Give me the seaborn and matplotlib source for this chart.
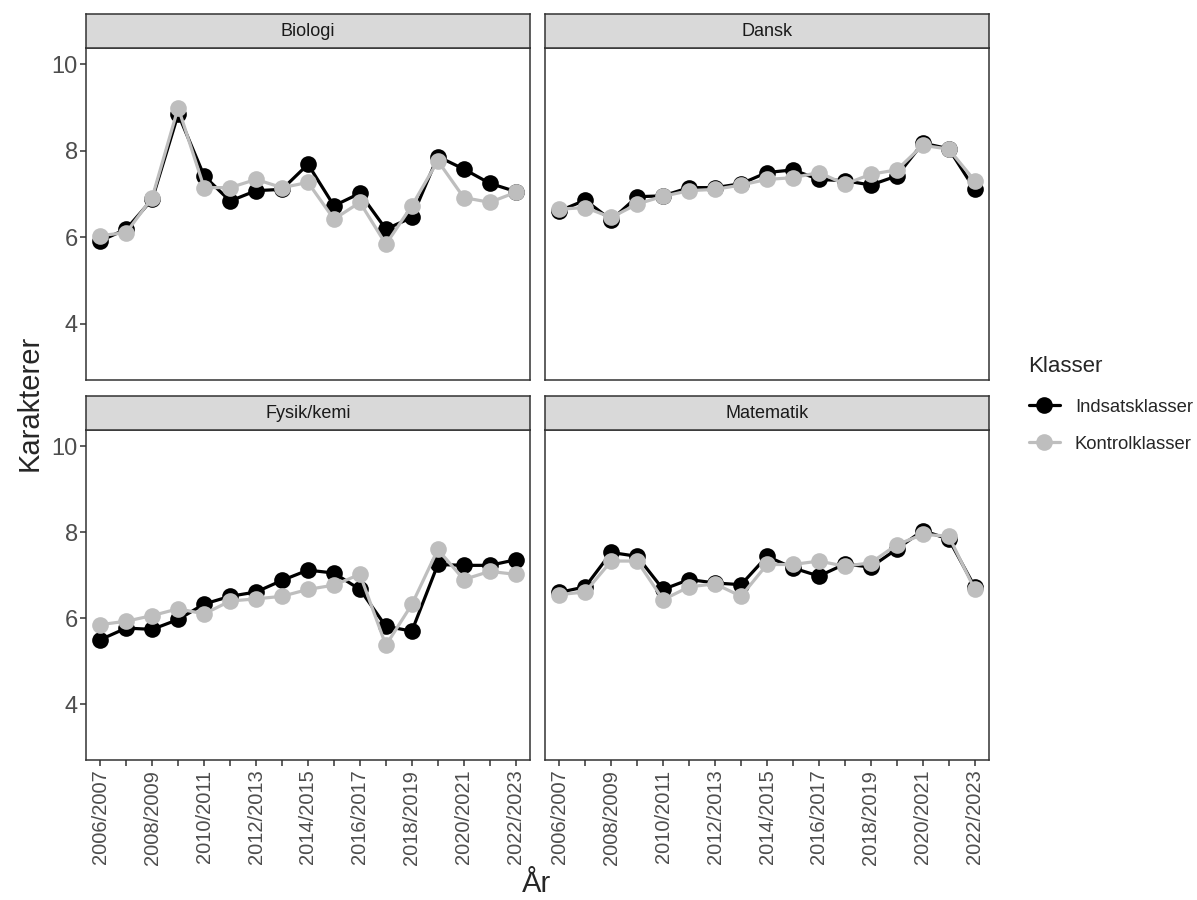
import matplotlib
matplotlib.use("Agg")
import matplotlib.pyplot as plt
from matplotlib.lines import Line2D
import seaborn as sns
import pandas as pd

sns.set_theme(style="white")
plt.rcParams["font.family"] = ["Liberation Sans", "DejaVu Sans"]

years = ["2006/2007", "2007/2008", "2008/2009", "2009/2010", "2010/2011",
         "2011/2012", "2012/2013", "2013/2014", "2014/2015", "2015/2016",
         "2016/2017", "2017/2018", "2018/2019", "2019/2020", "2020/2021",
         "2021/2022", "2022/2023"]
subjects = ["Biologi", "Dansk", "Fysik/kemi", "Matematik"]
groups = ["Indsatsklasser", "Kontrolklasser"]

biologi_indsats = [5.92, 6.19, 6.88, 8.85, 7.42, 6.84, 7.08, 7.11, 7.69, 6.73,
                   7.02, 6.19, 6.46, 7.87, 7.58, 7.25, 7.06]
biologi_kontrol = [6.04, 6.11, 6.92, 9.00, 7.15, 7.15, 7.34, 7.15, 7.27, 6.42,
                   6.81, 5.84, 6.73, 7.77, 6.92, 6.81, 7.04]
dansk_indsats = [6.61, 6.86, 6.40, 6.94, 6.96, 7.15, 7.15, 7.24, 7.50, 7.56,
                 7.34, 7.31, 7.21, 7.42, 8.18, 8.05, 7.11]
dansk_kontrol = [6.65, 6.69, 6.46, 6.77, 6.95, 7.08, 7.11, 7.21, 7.34, 7.38,
                 7.50, 7.23, 7.46, 7.56, 8.13, 8.04, 7.31]
fysik_indsats = [5.50, 5.77, 5.74, 5.97, 6.33, 6.51, 6.61, 6.88, 7.12, 7.05,
                 6.67, 5.81, 5.70, 7.25, 7.23, 7.23, 7.36]
fysik_kontrol = [5.85, 5.93, 6.06, 6.22, 6.10, 6.40, 6.45, 6.51, 6.67, 6.77,
                 7.02, 5.37, 6.32, 7.60, 6.90, 7.09, 7.02]
matematik_indsats = [6.60, 6.73, 7.53, 7.44, 6.67, 6.90, 6.82, 6.78, 7.44, 7.17,
                     6.98, 7.26, 7.19, 7.61, 8.04, 7.84, 6.73]
matematik_kontrol = [6.55, 6.61, 7.33, 7.33, 6.43, 6.73, 6.80, 6.51, 7.25, 7.25,
                     7.33, 7.21, 7.29, 7.71, 7.95, 7.91, 6.67]

series = {
    "Biologi": (biologi_indsats, biologi_kontrol),
    "Dansk": (dansk_indsats, dansk_kontrol),
    "Fysik/kemi": (fysik_indsats, fysik_kontrol),
    "Matematik": (matematik_indsats, matematik_kontrol),
}

rows = []
for subj in subjects:
    for grp, vals in zip(groups, series[subj]):
        for yr, v in zip(years, vals):
            rows.append({"Fag": subj, "Klasser": grp, "År": yr, "Karakterer": v})
df = pd.DataFrame(rows)

palette = {"Indsatsklasser": "#000000", "Kontrolklasser": "#BEBEBE"}
edge = "#333333"

W, H = 1197, 900
fig = plt.figure(figsize=(W / 100, H / 100), dpi=100)

def frac(x0, y0, x1, y1):
    return [x0 / W, 1 - y1 / H, (x1 - x0) / W, (y1 - y0) / H]

panel_boxes = {
    "Biologi": (86, 48, 530, 380),
    "Dansk": (545, 48, 989, 380),
    "Fysik/kemi": (86, 430, 530, 760),
    "Matematik": (545, 430, 989, 760),
}
strip_h = 34

for i, subj in enumerate(subjects):
    x0, y0, x1, y1 = panel_boxes[subj]
    ax = fig.add_axes(frac(x0, y0, x1, y1))
    sub = df[df["Fag"] == subj]
    sns.lineplot(data=sub, x="År", y="Karakterer", hue="Klasser",
                 hue_order=groups, palette=palette, marker="o",
                 markersize=12, markeredgewidth=0, linewidth=2.3,
                 sort=False, legend=False, ax=ax)
    ax.set_xlim(-0.55, 16.55)
    ax.set_ylim(2.7, 10.38)
    ax.set_xlabel("")
    ax.set_ylabel("")
    for s in ax.spines.values():
        s.set_color(edge)
        s.set_linewidth(1.1)
    ax.set_yticks([4, 6, 8, 10])
    ax.set_xticks(range(len(years)))
    ax.set_xticklabels([y if j % 2 == 0 else "" for j, y in enumerate(years)],
                       rotation=90)
    ax.tick_params(axis="both", bottom=True, left=True, colors=edge,
                   length=4, width=1.1, labelcolor="#4D4D4D")
    ax.tick_params(axis="y", labelsize=17, pad=2)
    ax.tick_params(axis="x", labelsize=14.5, pad=3)
    if i < 2:
        ax.tick_params(axis="x", bottom=False, labelbottom=False)
    if i % 2 == 1:
        ax.tick_params(axis="y", left=False, labelleft=False)

    # facet strip
    sax = fig.add_axes(frac(x0, y0 - strip_h, x1, y0))
    sax.set_xlim(0, 1)
    sax.set_ylim(0, 1)
    sax.set_xticks([])
    sax.set_yticks([])
    sax.set_facecolor("#D9D9D9")
    for s in sax.spines.values():
        s.set_color(edge)
        s.set_linewidth(1.1)
    sax.text(0.5, 0.5, subj, ha="center", va="center", fontsize=13,
             color="#1A1A1A")

fig.text(30 / W, 1 - 403 / H, "Karakterer", rotation=90, ha="center",
         va="center", fontsize=21)
fig.text(537 / W, 1 - 884 / H, "År", ha="center", va="center", fontsize=21)

# legend
fig.text(1028 / W, 1 - 366 / H, "Klasser", ha="left", va="center",
         fontsize=16)
handles = [Line2D([], [], color=palette[g], marker="o", markersize=12,
                  markeredgewidth=0, linewidth=2.3) for g in groups]
fig.legend(handles, groups, loc="upper left",
           bbox_to_anchor=(1012 / W, 1 - 382 / H), frameon=False,
           fontsize=13.3, handlelength=1.7, handletextpad=0.8,
           labelspacing=1.08)

fig.savefig("out.png", dpi=100, facecolor="white")
